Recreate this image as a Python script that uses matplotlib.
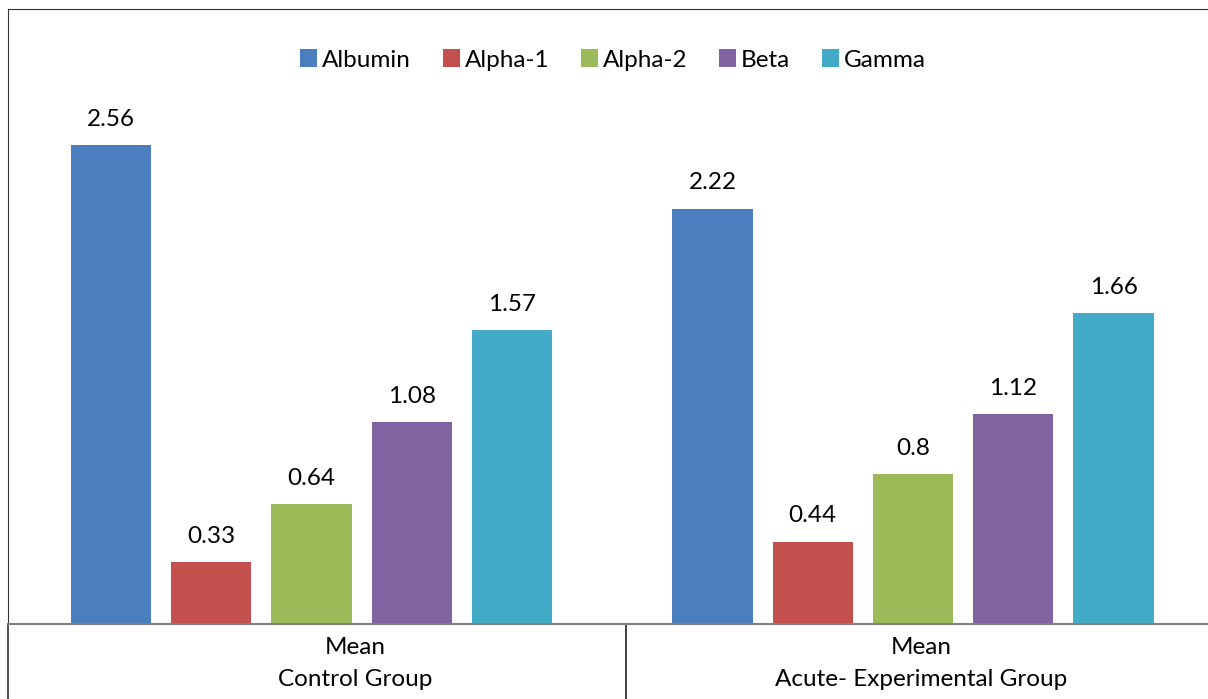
import matplotlib.pyplot as plt
from matplotlib.lines import Line2D
import numpy as np

plt.rcParams['font.family'] = ['Lato', 'DejaVu Sans']

groups = ["Mean\nControl Group", "Mean\nAcute- Experimental Group"]
series = ["Albumin", "Alpha-1", "Alpha-2", "Beta", "Gamma"]
control = [2.56, 0.33, 0.64, 1.08, 1.57]
acute = [2.22, 0.44, 0.8, 1.12, 1.66]
labels_control = ["2.56", "0.33", "0.64", "1.08", "1.57"]
labels_acute = ["2.22", "0.44", "0.8", "1.12", "1.66"]
colors = ["#4A7EBF", "#C4504E", "#9BBB59", "#8064A2", "#42ACC8"]

W, H = 1208, 699
fig = plt.figure(figsize=(W / 100, H / 100), dpi=100)

# axes placed in pixel terms: left border x=8, top border y=9, baseline y=624
left, top, base = 8, 9, 624
ax = fig.add_axes([left / W, (H - base) / H, (W - left) / W, (base - top) / H])

px_per_unit = 100.25
first_center = 111
ax.set_xlim((left - first_center) / px_per_unit, (W - first_center) / px_per_unit)
ax.set_ylim(0, (base - top) / 187.1)

FS = 17.5
values = [control, acute]
value_labels = [labels_control, labels_acute]
group_offset = 6
for g in range(len(groups)):
    for i, name in enumerate(series):
        x = g * group_offset + i
        ax.bar(x, values[g][i], width=0.8, color=colors[i],
               label=name if g == 0 else None)
        ax.annotate(value_labels[g][i], (x, values[g][i]), xytext=(0, 11),
                    textcoords="offset points", ha="center", va="bottom",
                    fontsize=FS, color="#000000")

ax.set_xticks([])
ax.set_yticks([])
ax.spines["right"].set_visible(False)
ax.spines["left"].set_color("#333333")
ax.spines["top"].set_color("#333333")
ax.spines["bottom"].set_color("#808080")
ax.spines["bottom"].set_linewidth(1.5)

# category table under the axis
label_pos = [2.44, 8.08]
sep_x = 5.14
tr = ax.get_xaxis_transform()
for gx, txt in zip(label_pos, groups):
    first, second = txt.split("\n")
    ax.text(gx, -(647 - base) / (base - top), first, transform=tr,
            ha="center", va="center", fontsize=FS)
    ax.text(gx, -(680 - base) / (base - top), second, transform=tr,
            ha="center", va="center", fontsize=FS)

drop = -(H - base) / (base - top)
ax.add_line(Line2D([sep_x, sep_x], [0, drop], transform=tr, color="#222222",
                   lw=1.2, clip_on=False))
ax.add_line(Line2D([ax.get_xlim()[0]] * 2, [0, drop], transform=tr,
                   color="#333333", lw=1.2, clip_on=False))

ax.legend(loc="center", bbox_to_anchor=(613 / W, 1 - 60 / H),
          bbox_transform=fig.transFigure, ncol=5, frameon=False,
          fontsize=FS, handlelength=0.7, handleheight=0.7,
          handletextpad=0.2, columnspacing=1.3)

fig.savefig("out.png", dpi=100)
